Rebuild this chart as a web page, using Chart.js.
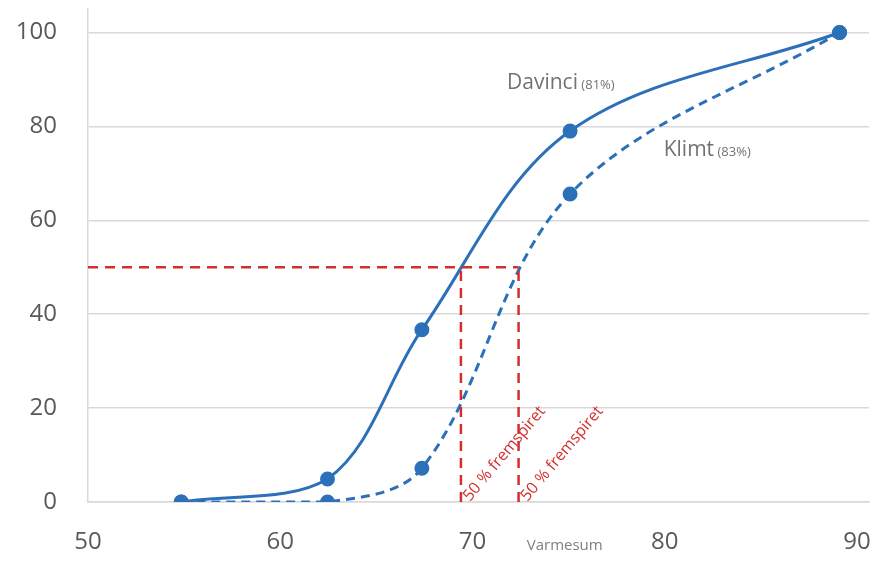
<!DOCTYPE html>
<html>
<head>
<meta charset="utf-8">
<script src="https://cdn.jsdelivr.net/npm/chart.js@4.4.1/dist/chart.umd.min.js"></script>
<style>
  html, body { margin: 0; padding: 0; background: #fff; overflow: hidden; }
  #wrap { width: 878px; height: 562px; position: relative; }
</style>
</head>
<body>
<div id="wrap"><canvas id="myChart"></canvas></div>
<script>
// measured points (varmesum, % fremspiret)
const davinciX = [54.85, 62.46, 67.37, 75.08, 89.1];
const davinciY = [0, 4.9, 36.7, 79, 100];
const klimtX = [54.85, 62.46, 67.37, 75.08, 89.1];
const klimtY = [0, 0, 7.2, 65.6, 100];

// 50 % level and where each curve crosses it
const fiftyLevel = 50;
const fiftyX = [69.4, 72.4];
const fiftyText = ['50 % fremspiret', '50 % fremspiret'];

const xTicks = [50, 60, 70, 80, 90];
const yTicks = [0, 20, 40, 60, 80, 100];

const blue = '#2b70b8';
const red = '#d42f2f';
const grey = '#d9d9d9';
const tickColor = '#595959';
const labelColor = '#767171';

function toPoints(xs, ys) {
    return xs.map((x, i) => ({ x: x, y: ys[i] }));
}

// labels on the chart
const textPlugin = {
    id: 'texts',
    afterDatasetsDraw(chart) {
        const ctx = chart.ctx;
        const xs = chart.scales.x;
        const ys = chart.scales.y;
        ctx.save();

        // series names
        function seriesLabel(name, pct, x, y) {
            const px = xs.getPixelForValue(x);
            const py = ys.getPixelForValue(y);
            ctx.fillStyle = labelColor;
            ctx.textBaseline = 'alphabetic';
            ctx.textAlign = 'left';
            ctx.font = '21px "Open Sans"';
            ctx.fillText(name, px, py);
            const w = ctx.measureText(name).width;
            ctx.font = '13px "Open Sans"';
            ctx.fillText(' (' + pct + ')', px + w, py);
        }
        seriesLabel('Davinci', '81%', 71.8, 88);
        seriesLabel('Klimt', '83%', 79.95, 73.7);

        // rotated red labels
        ctx.fillStyle = red;
        ctx.font = '16px "Open Sans"';
        ctx.textAlign = 'left';
        ctx.textBaseline = 'alphabetic';
        fiftyX.forEach((x, i) => {
            const px = xs.getPixelForValue(x);
            const py = ys.getPixelForValue(0);
            ctx.save();
            ctx.translate(px + 9, py);
            ctx.rotate(-50 * Math.PI / 180);
            ctx.fillText(fiftyText[i], 0, 0);
            ctx.restore();
        });

        // axis name
        ctx.fillStyle = '#7f7f7f';
        ctx.font = '15px "Open Sans"';
        ctx.textAlign = 'center';
        ctx.textBaseline = 'middle';
        ctx.fillText('Varmesum', xs.getPixelForValue(74.8), ys.bottom + 44);
        ctx.restore();
    }
};

const redLine = {
    type: 'scatter',
    showLine: true,
    borderColor: red,
    borderWidth: 2.5,
    borderDash: [10, 7],
    pointRadius: 0,
    tension: 0,
    order: 0
};

new Chart('myChart', {
    type: 'scatter',
    data: {
        datasets: [
            Object.assign({}, redLine, {
                label: 'level',
                data: [{ x: 50, y: fiftyLevel }, { x: fiftyX[1], y: fiftyLevel }]
            }),
            Object.assign({}, redLine, {
                label: 'Davinci 50',
                data: [{ x: fiftyX[0], y: 0 }, { x: fiftyX[0], y: fiftyLevel }]
            }),
            Object.assign({}, redLine, {
                label: 'Klimt 50',
                data: [{ x: fiftyX[1], y: 0 }, { x: fiftyX[1], y: fiftyLevel }]
            }),
            {
                label: 'Davinci',
                data: toPoints(davinciX, davinciY),
                showLine: true,
                borderColor: blue,
                backgroundColor: blue,
                borderWidth: 3,
                pointRadius: 6,
                tension: 0.35,
                order: 1
            },
            {
                label: 'Klimt',
                data: toPoints(klimtX, klimtY),
                showLine: true,
                borderColor: blue,
                backgroundColor: blue,
                borderWidth: 3,
                borderDash: [9, 6],
                pointRadius: 6,
                tension: 0.35,
                order: 2
            }
        ]
    },
    options: {
        responsive: true,
        maintainAspectRatio: false,
        animation: false,
        layout: { padding: { top: 8, right: 0, left: 0, bottom: 0 } },
        plugins: {
            legend: { display: false },
            tooltip: { enabled: false }
        },
        scales: {
            x: {
                type: 'linear',
                min: 50,
                max: 90.63,
                afterBuildTicks: (s) => { s.ticks = xTicks.map(v => ({ value: v })); },
                afterFit: (s) => {
                    s.height = 60;
                    s.paddingLeft = 0;
                    s.paddingRight = 0;
                },
                grid: { display: false, drawTicks: false },
                border: { display: true, color: grey, width: 1.5 },
                ticks: {
                    padding: 26,
                    color: tickColor,
                    font: { family: 'Open Sans', size: 24 },
                    maxRotation: 0
                }
            },
            y: {
                min: 0,
                max: 105,
                afterBuildTicks: (s) => { s.ticks = yTicks.map(v => ({ value: v })); },
                afterFit: (s) => {
                    s.width = 88;
                    s.paddingTop = 0;
                    s.paddingBottom = 0;
                },
                grid: { color: grey, lineWidth: 1.5, drawTicks: false },
                border: { display: true, color: grey, width: 1.5 },
                ticks: {
                    padding: 31,
                    color: tickColor,
                    font: { family: 'Open Sans', size: 24 }
                }
            }
        }
    },
    plugins: [textPlugin]
});
</script>
</body>
</html>
